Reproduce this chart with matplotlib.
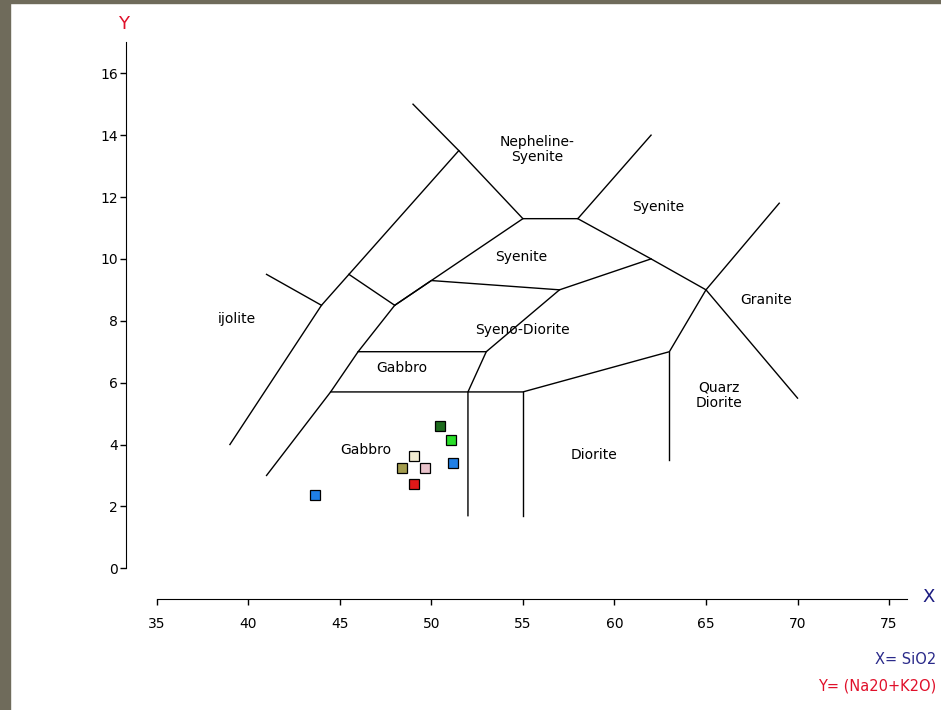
import matplotlib.pyplot as plt
from matplotlib.patches import Rectangle

# field boundaries (SiO2, Na2O+K2O)
boundaries = [
    [(39, 4.0), (44, 8.5), (45.5, 9.5), (51.5, 13.5)],
    [(41, 9.5), (44, 8.5)],
    [(45.5, 9.5), (48, 8.5)],
    [(41, 3.0), (44.5, 5.7), (46, 7.0), (48, 8.5), (55, 11.3)],
    [(49, 15.0), (51.5, 13.5), (55, 11.3), (58, 11.3), (62, 14.0)],
    [(58, 11.3), (62, 10.0), (65, 9.0), (70, 5.5)],
    [(48, 8.5), (50, 9.3), (57, 9.0), (62, 10.0)],
    [(46, 7.0), (53, 7.0), (57, 9.0)],
    [(44.5, 5.7), (55, 5.7), (63, 7.0), (65, 9.0), (69, 11.8)],
    [(53, 7.0), (52, 5.7), (52, 1.7)],
    [(55, 5.7), (55, 1.7)],
    [(63, 7.0), (63, 3.5)],
]

field_names = ["ijolite", "Nepheline-\nSyenite", "Syenite", "Syenite", "Syeno-Diorite",
               "Gabbro", "Gabbro", "Granite", "Quarz\nDiorite", "Diorite"]
field_x = [39.4, 55.8, 62.4, 54.9, 55.0, 48.4, 46.4, 68.3, 65.7, 58.9]
field_y = [8.05, 13.55, 11.67, 10.05, 7.7, 6.46, 3.81, 8.66, 5.6, 3.65]

# samples
sio2 = [50.5, 51.1, 51.2, 49.05, 48.4, 49.65, 49.05, 43.65]
alk = [4.59, 4.16, 3.40, 3.64, 3.24, 3.24, 2.72, 2.36]
colors = ["#1d6b1d", "#2add2a", "#1f7fe6", "#f2ecd2", "#a39c4e", "#e9c3cb", "#e01818", "#1f7fe6"]

fig = plt.figure(figsize=(9.41, 7.10), dpi=100)
fig.patches.append(Rectangle((0, 0), 10 / 941, 1, transform=fig.transFigure,
                             color="#6f6b5b", zorder=0))
fig.patches.append(Rectangle((0, 1 - 3 / 710), 1, 3 / 710, transform=fig.transFigure,
                             color="#6f6b5b", zorder=0))

ax = fig.add_axes([0.1665, 0.1996, 0.7978, 0.7408])
ax.set_xlim(35, 76)
ax.set_ylim(0, 17)

for line in boundaries:
    xs = [p[0] for p in line]
    ys = [p[1] for p in line]
    ax.plot(xs, ys, color="black", linewidth=1.0)

for name, x, y in zip(field_names, field_x, field_y):
    ax.text(x, y, name, ha="center", va="center", fontsize=10, linespacing=1.1)

for x, y, c in zip(sio2, alk, colors):
    ax.plot(x, y, marker="s", markersize=7.5, markerfacecolor=c,
            markeredgecolor="black", markeredgewidth=0.9, linestyle="none")

# detached axes, like the original program draws them
ax.spines["top"].set_visible(False)
ax.spines["right"].set_visible(False)
ax.spines["left"].set_position(("outward", 22))
ax.spines["bottom"].set_position(("outward", 22))
ax.spines["left"].set_bounds(0, 17)
ax.spines["bottom"].set_bounds(35, 76)
ax.set_xticks(range(35, 80, 5))
ax.set_yticks(range(0, 18, 2))
ax.tick_params(axis="both", direction="out", length=4, width=1, labelsize=10, pad=2)
ax.tick_params(axis="x", pad=9)

fig.text(124 / 941, 1 - 24 / 710, "Y", color="#e0102a", fontsize=13,
         ha="center", va="center")
fig.text(929 / 941, 1 - 597 / 710, "X", color="#1a1a80", fontsize=13,
         ha="center", va="center")
fig.text(936 / 941, 1 - 659 / 710, "X= SiO2", color="#2a2a8a", fontsize=10.5,
         ha="right", va="center")
fig.text(936 / 941, 1 - 686 / 710, "Y= (Na20+K2O)", color="#e0102a", fontsize=10.5,
         ha="right", va="center")

plt.savefig("out.png", dpi=100)
plt.close()
